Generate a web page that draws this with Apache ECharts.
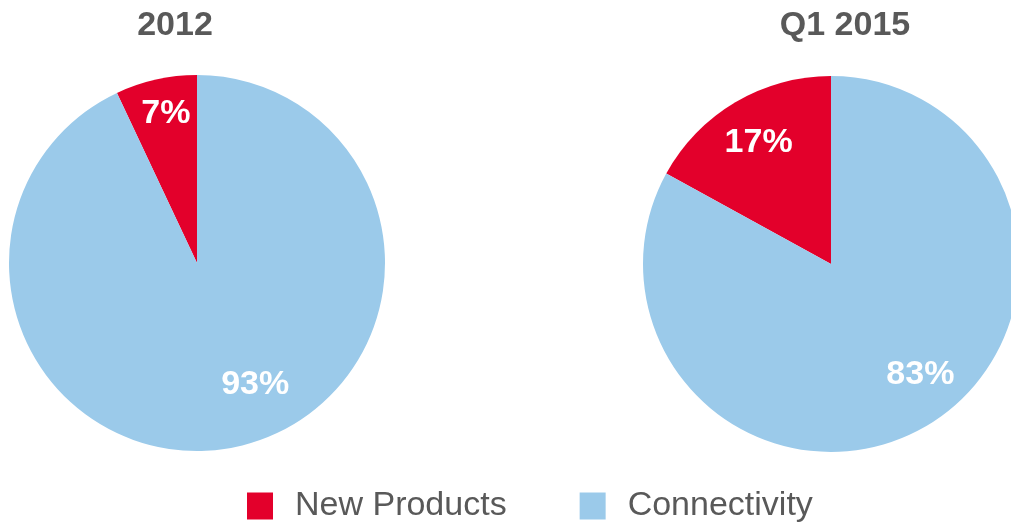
<!DOCTYPE html>
<html>
<head>
<meta charset="utf-8">
<script src="https://cdn.jsdelivr.net/npm/echarts@6/dist/echarts.min.js"></script>
<style>
  html, body { margin: 0; padding: 0; background: #fff; }
  #chart { width: 1011px; height: 525px; }
</style>
</head>
<body>
<div id="chart"></div>
<script>
// Revenue mix: share of New Products vs Connectivity
const categories = ['New Products', 'Connectivity'];
const periods = ['2012', 'Q1 2015'];
const share2012 = [7, 93];
const shareQ12015 = [17, 83];

const colors = ['#E3002B', '#9BCAEA'];
const font = '"Liberation Sans", Arial, sans-serif';

// label nudges from the default inside position, per pie and slice
const labelShift = [
  [[-10, -55], [37, 27]],
  [[-23, -38], [40, 27]]
];

function pieSeries(name, values, center, idx) {
  return {
    name: name,
    type: 'pie',
    center: center,
    radius: 188,
    startAngle: 90,
    clockwise: false,
    silent: true,
    data: categories.map((c, i) => ({ name: c, value: values[i], itemStyle: { color: colors[i] } })),
    label: {
      show: true,
      position: 'inside',
      formatter: '{c}%',
      color: '#fff',
      fontSize: 34,
      fontWeight: 'bold',
      fontFamily: font
    },
    labelLine: { show: false },
    labelLayout: function (p) {
      const s = labelShift[idx][p.dataIndex];
      return { dx: s[0], dy: s[1] };
    },
    itemStyle: { borderWidth: 0 }
  };
}

const chart = echarts.init(document.getElementById('chart'), null, { renderer: 'canvas' });
chart.setOption({
  animation: false,
  backgroundColor: '#fff',
  title: [
    { text: periods[0], left: 170, top: 4, textAlign: 'center',
      textStyle: { fontSize: 34, fontWeight: 'bold', color: '#595959', fontFamily: font } },
    { text: periods[1], left: 840, top: 4, textAlign: 'center',
      textStyle: { fontSize: 34, fontWeight: 'bold', color: '#595959', fontFamily: font } }
  ],
  legend: {
    data: categories,
    left: 242,
    top: 484,
    itemWidth: 26,
    itemHeight: 27,
    itemGap: 73,
    icon: 'rect',
    selectedMode: false,
    textStyle: { fontSize: 34, color: '#595959', fontFamily: font, padding: [0, 0, 0, 17] }
  },
  series: [
    pieSeries(periods[0], share2012, [197, 263], 0),
    pieSeries(periods[1], shareQ12015, [831, 264], 1)
  ]
});
</script>
</body>
</html>
